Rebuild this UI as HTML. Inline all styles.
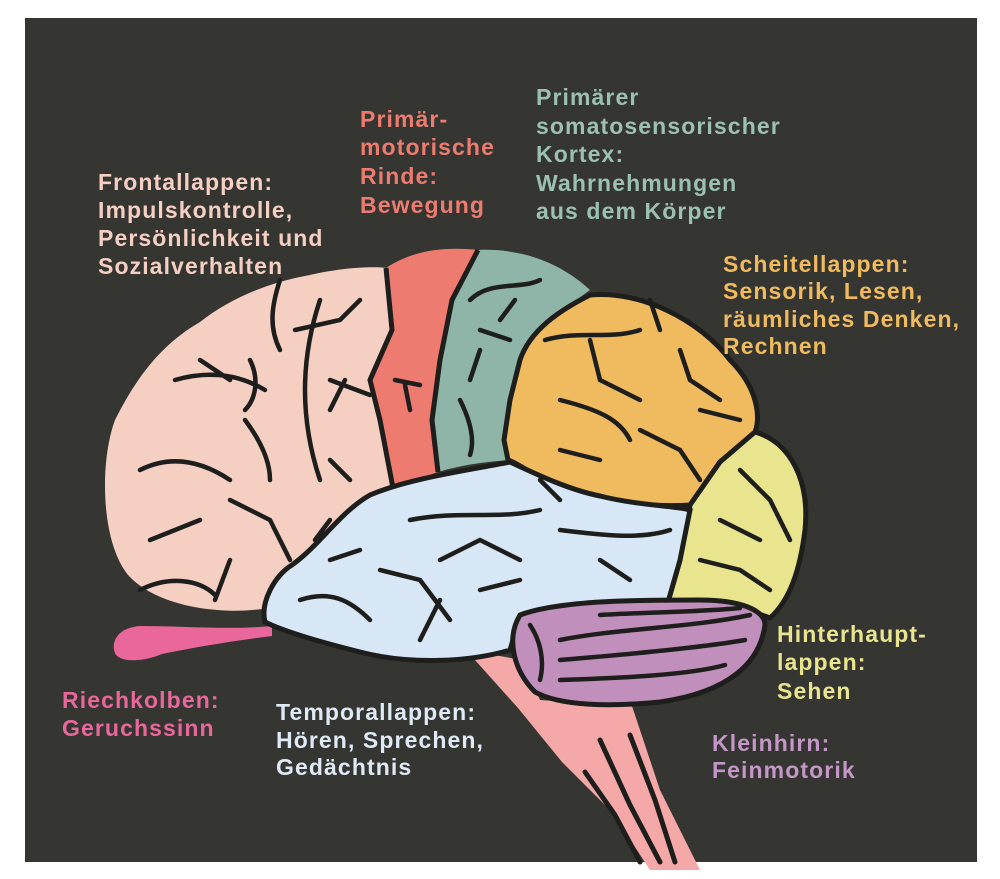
<!DOCTYPE html>
<html><head><meta charset="utf-8"><style>
html,body{margin:0;padding:0;background:#fff;}
svg{display:block}
text{font-family:"Liberation Sans",sans-serif;font-weight:bold;font-size:23px;letter-spacing:1.1px;}
</style></head><body>
<svg width="1000" height="879" viewBox="0 0 1000 879" xmlns="http://www.w3.org/2000/svg">
<rect x="25" y="18" width="952" height="844" fill="#353532"/>
<path d="M466,650 L522,660 L540,700 L632,706 L660,790 L700,870 L650,870 L612,812 L562,762 L518,708 Z" fill="#f4a9a8"/>
<path d="M600,740 L630,805 L660,862 M630,735 L655,800 L675,862 M585,772 L615,815 L640,862" stroke="#1e1e1c" stroke-width="5" fill="none" stroke-linecap="round"/>
<path d="M272,626 C230,630 180,626 140,626 C115,628 110,645 116,655 C125,664 148,660 162,654 C200,646 240,640 272,636 Z" fill="#e9679b"/>
<path d="M268,608 C230,615 160,610 128,575 C100,540 100,460 115,420 C135,380 160,345 200,322 C230,298 270,282 310,275 C340,268 370,266 388,268 L392,330 L378,360 L380,420 L395,490 C360,500 320,530 300,565 Z" fill="#f5cfc2"/>
<path d="M386,268 C410,252 440,246 478,250 L452,300 L440,360 L432,420 L438,472 L393,488 L378,420 L368,380 L390,330 Z" fill="#ee7b70"/>
<path d="M478,250 C520,248 560,262 590,290 C560,312 530,332 520,360 L510,400 L505,440 L510,460 C480,462 458,466 438,472 L432,420 L440,360 L452,300 Z" fill="#8fb5a8"/>
<path d="M386,268 L392,330 L370,380 L380,420 L393,488 M478,250 L452,300 L440,360 L432,420 L438,472" stroke="#1e1e1c" stroke-width="5" fill="none"/>
<path d="M590,295 C640,290 700,320 730,360 C760,390 760,420 755,432 L720,462 L690,505 C650,508 600,500 560,490 C530,472 515,462 508,460 L504,440 L510,400 L520,360 C530,330 560,310 590,295 Z" fill="#f0bb5e" stroke="#1e1e1c" stroke-width="5"/>
<path d="M755,432 C790,442 810,480 805,530 C800,570 790,600 770,618 C740,606 700,600 668,602 L680,560 L690,505 L720,462 Z" fill="#e9e58f" stroke="#1e1e1c" stroke-width="5"/>
<path d="M370,495 C410,478 470,470 510,462 C540,476 570,490 600,496 C640,506 680,506 690,510 L680,560 L668,602 C630,606 560,606 520,616 L510,650 C470,662 410,665 360,652 C320,642 285,632 265,622 C260,602 275,575 292,565 C320,545 340,512 370,495 Z" fill="#d7e7f6" stroke="#1e1e1c" stroke-width="5"/>
<path d="M520,615 C560,600 640,600 700,600 C740,600 765,610 765,625 C760,662 730,692 660,702 C610,707 560,706 535,692 C515,672 505,640 520,615 Z" fill="#c08fbc" stroke="#1e1e1c" stroke-width="5"/>
<g stroke="#1e1e1c" stroke-width="4.5" fill="none" stroke-linecap="round">
<path d="M560,640 C620,628 690,628 750,615 M560,660 C620,655 700,648 745,640 M560,680 C620,678 690,675 725,665 M530,625 C540,640 545,660 540,680 M600,615 C650,612 700,612 740,608"/>
<path d="M175,380 C210,370 240,375 265,390 M200,360 L230,380 M140,470 C170,455 200,460 230,480 M150,540 L200,520 M140,590 C170,575 200,580 215,595 M215,600 L230,560 M280,280 C270,310 270,330 280,350 M295,330 L340,320 L360,300 M320,300 C300,360 300,420 320,480 M245,420 C260,440 270,460 270,480 M230,500 L270,520 L290,560 M330,380 L370,395 M345,380 L330,410 M330,460 L350,480 M330,520 L315,540 M250,360 C260,380 255,400 245,410"/>
<path d="M395,380 L420,385 M405,385 L410,410 M470,300 C490,280 520,290 540,280 M480,330 L510,340 M480,350 L470,380 M460,400 C470,420 475,440 470,455 M515,300 L500,320"/>
<path d="M545,340 C580,330 610,340 640,330 M590,340 L600,380 L640,400 M560,400 C600,410 620,420 630,440 M680,350 L690,380 L720,400 M640,430 L680,450 L700,480 M560,450 L600,460 M700,410 L740,420 M650,300 L660,330"/>
<path d="M740,470 L770,500 L790,540 M720,520 L760,540 M700,560 L740,570 L770,590"/>
<path d="M410,520 C460,510 500,520 540,510 M440,560 L480,540 L520,560 M300,600 C330,590 350,600 370,620 M380,570 L420,580 L450,620 M420,640 L440,600 M480,590 L520,580 M560,530 C600,535 640,540 670,530 M600,560 L630,580 M330,560 L360,550 M540,480 L560,500"/>
</g>
<g fill="#f5cfc2"><text x="98" y="190">Frontallappen:</text><text x="98" y="218">Impulskontrolle,</text><text x="98" y="246">Persönlichkeit und</text><text x="98" y="274">Sozialverhalten</text></g>
<g fill="#ee7b70"><text x="360" y="127">Primär-</text><text x="360" y="155">motorische</text><text x="360" y="184">Rinde:</text><text x="360" y="213">Bewegung</text></g>
<g fill="#9cc1b3"><text x="536" y="105">Primärer</text><text x="536" y="134">somatosensorischer</text><text x="536" y="162">Kortex:</text><text x="536" y="191">Wahrnehmungen</text><text x="536" y="219">aus dem Körper</text></g>
<g fill="#f0bb5e"><text x="723" y="272">Scheitellappen:</text><text x="723" y="299">Sensorik, Lesen,</text><text x="723" y="327">räumliches Denken,</text><text x="723" y="354">Rechnen</text></g>
<g fill="#e9e58f"><text x="777" y="642">Hinterhaupt-</text><text x="777" y="670">lappen:</text><text x="777" y="699">Sehen</text></g>
<g fill="#c597c8"><text x="712" y="751">Kleinhirn:</text><text x="712" y="778">Feinmotorik</text></g>
<g fill="#dfeaf6"><text x="276" y="720">Temporallappen:</text><text x="276" y="748">Hören, Sprechen,</text><text x="276" y="775">Gedächtnis</text></g>
<g fill="#e9679b"><text x="62" y="708">Riechkolben:</text><text x="62" y="736">Geruchssinn</text></g>
</svg>
</body></html>
